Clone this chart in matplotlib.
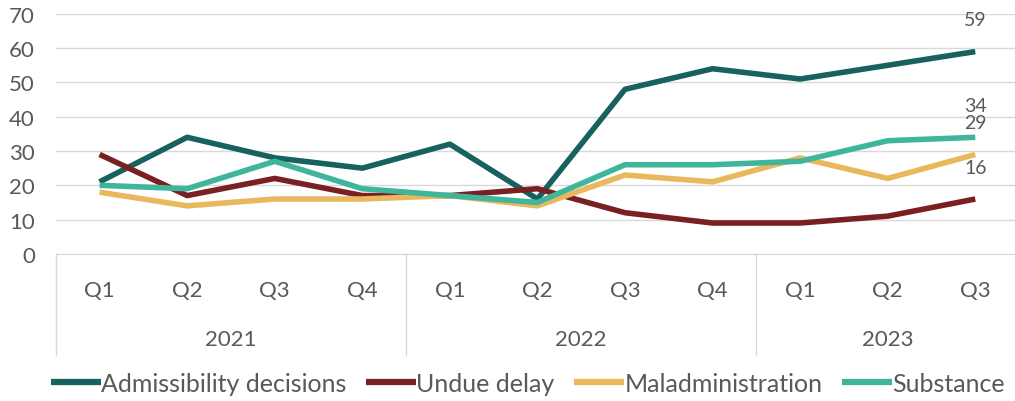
import matplotlib.pyplot as plt
from matplotlib.lines import Line2D
import matplotlib.transforms as mtransforms

plt.rcParams['font.family'] = ['Lato', 'DejaVu Sans']

# data
quarters = ['Q1', 'Q2', 'Q3', 'Q4', 'Q1', 'Q2', 'Q3', 'Q4', 'Q1', 'Q2', 'Q3']
years = ['2021', '2022', '2023']
year_sizes = [4, 4, 3]
admissibility = [21, 34, 28, 25, 32, 16, 48, 54, 51, 55, 59]
undue_delay = [29, 17, 22, 17, 17, 19, 12, 9, 9, 11, 16]
maladmin = [18, 14, 16, 16, 17, 14, 23, 21, 28, 22, 29]
substance = [20, 19, 27, 19, 17, 15, 26, 26, 27, 33, 34]

series = [
    ('Admissibility decisions', admissibility, '#17615f'),
    ('Undue delay', undue_delay, '#7a1f22'),
    ('Maladministration', maladmin, '#e9b85c'),
    ('Substance', substance, '#3fb59c'),
]

text_col = '#595959'
grid_col = '#d9d9d9'

fig = plt.figure(figsize=(10.15, 4.02), dpi=100)
ax = fig.add_axes([0.055, 0.366, 0.949, 0.597])

x = list(range(len(quarters)))
for name, vals, col in series:
    ax.plot(x, vals, color=col, lw=4, label=name, solid_capstyle='butt', zorder=3)
    # label on last point
    ax.annotate(str(vals[-1]), (x[-1], vals[-1]), xytext=(0, 23),
                textcoords='offset points', ha='center', va='center',
                fontsize=14, color=text_col)

ax.set_xlim(-0.5, len(quarters) - 0.5)
ax.set_ylim(0, 70)
ax.set_yticks(range(0, 71, 10))
ax.yaxis.grid(True, color=grid_col, lw=1)
ax.set_axisbelow(True)
for s in ['top', 'right', 'left']:
    ax.spines[s].set_visible(False)
ax.spines['bottom'].set_color(grid_col)
ax.tick_params(axis='y', length=0, labelsize=16, labelcolor=text_col, pad=15)
ax.tick_params(axis='x', length=0, labelsize=16, labelcolor=text_col, pad=19)
ax.set_xticks(x)
ax.set_xticklabels(quarters)

# year level of the category axis
trans = mtransforms.blended_transform_factory(ax.transData, ax.transAxes)
start = -0.5
edges = [start]
for yr, n in zip(years, year_sizes):
    mid = start + n / 2
    ax.text(mid, -0.355, yr, transform=trans, ha='center', va='center',
            fontsize=16, color=text_col)
    start += n
    edges.append(start)
for e in edges:
    ax.add_line(Line2D([e, e], [0, -0.42], transform=trans, color=grid_col,
                       lw=1, clip_on=False))

leg = fig.legend(loc='center', bbox_to_anchor=(0.52, 0.043), ncol=4, frameon=False,
                 fontsize=18, handlelength=2.0, handletextpad=0.0, columnspacing=0.8,
                 labelcolor=text_col)
for h in leg.get_lines():
    h.set_linewidth(4.5)

fig.savefig('out.png', dpi=100)
